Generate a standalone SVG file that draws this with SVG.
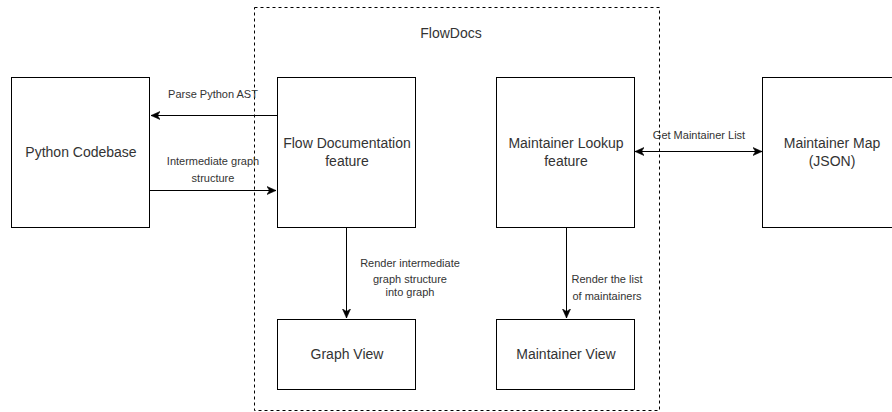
<svg xmlns="http://www.w3.org/2000/svg" width="892" height="412" viewBox="0 0 892 412">
  <style>
    .box { fill: #ffffff; stroke: #000000; stroke-width: 1; }
    .frame { fill: none; stroke: #000000; stroke-width: 1; stroke-dasharray: 3 3; }
    .edge { fill: none; stroke: #000000; stroke-width: 1; }
    .label { font-family: "Liberation Sans", Arial, Helvetica, sans-serif; font-size: 14px; fill: #333333; text-anchor: middle; }
    .elabel { font-family: "Liberation Sans", Arial, Helvetica, sans-serif; font-size: 11px; fill: #333333; text-anchor: middle; }
  </style>
  <defs>
    <marker id="arrow" markerUnits="userSpaceOnUse" markerWidth="12" markerHeight="10" refX="9" refY="4.5" orient="auto-start-reverse">
      <path d="M0,0.5 L9,4.5 L0,8.5 L2.5,4.5 Z" fill="#000000" stroke="#000000" stroke-width="0.6"/>
    </marker>
  </defs>

  <rect width="892" height="412" fill="#ffffff"/>

  <!-- FlowDocs container -->
  <g id="flowdocs">
    <rect class="frame" x="254.5" y="7.5" width="405" height="403"/>
    <text class="label" x="451" y="38">FlowDocs</text>
  </g>

  <g id="python-codebase">
    <rect class="box" x="11.5" y="77.5" width="138" height="150"/>
    <text class="label" x="81" y="157">Python Codebase</text>
  </g>

  <g id="flow-documentation">
    <rect class="box" x="277.5" y="77.5" width="138" height="150"/>
    <text class="label" x="347" y="148">Flow Documentation</text>
    <text class="label" x="347" y="166">feature</text>
  </g>

  <g id="maintainer-lookup">
    <rect class="box" x="496.5" y="77.5" width="138" height="150"/>
    <text class="label" x="566" y="148">Maintainer Lookup</text>
    <text class="label" x="566" y="166">feature</text>
  </g>

  <g id="maintainer-map">
    <rect class="box" x="762.5" y="77.5" width="138" height="150"/>
    <text class="label" x="832" y="148">Maintainer Map</text>
    <text class="label" x="832" y="166">(JSON)</text>
  </g>

  <g id="graph-view">
    <rect class="box" x="277.5" y="319.5" width="138" height="70"/>
    <text class="label" x="347" y="359">Graph View</text>
  </g>

  <g id="maintainer-view">
    <rect class="box" x="496.5" y="319.5" width="138" height="70"/>
    <text class="label" x="566" y="359">Maintainer View</text>
  </g>

  <g id="connectors">
    <path class="edge" d="M277,115.5 H151" marker-end="url(#arrow)"/>
    <text class="elabel" x="213" y="98">Parse Python AST</text>

    <path class="edge" d="M150,190.5 H276" marker-end="url(#arrow)"/>
    <text class="elabel" x="213" y="165">Intermediate graph</text>
    <text class="elabel" x="213" y="182">structure</text>

    <path class="edge" d="M635,151.5 H762" marker-start="url(#arrow)" marker-end="url(#arrow)"/>
    <text class="elabel" x="699" y="139">Get Maintainer List</text>

    <path class="edge" d="M346.5,228 V318" marker-end="url(#arrow)"/>
    <text class="elabel" x="410" y="267">Render intermediate</text>
    <text class="elabel" x="410" y="283">graph structure</text>
    <text class="elabel" x="410" y="296">into graph</text>

    <path class="edge" d="M566.5,228 V318" marker-end="url(#arrow)"/>
    <text class="elabel" x="607" y="283">Render the list</text>
    <text class="elabel" x="607" y="300">of maintainers</text>
  </g>
</svg>
